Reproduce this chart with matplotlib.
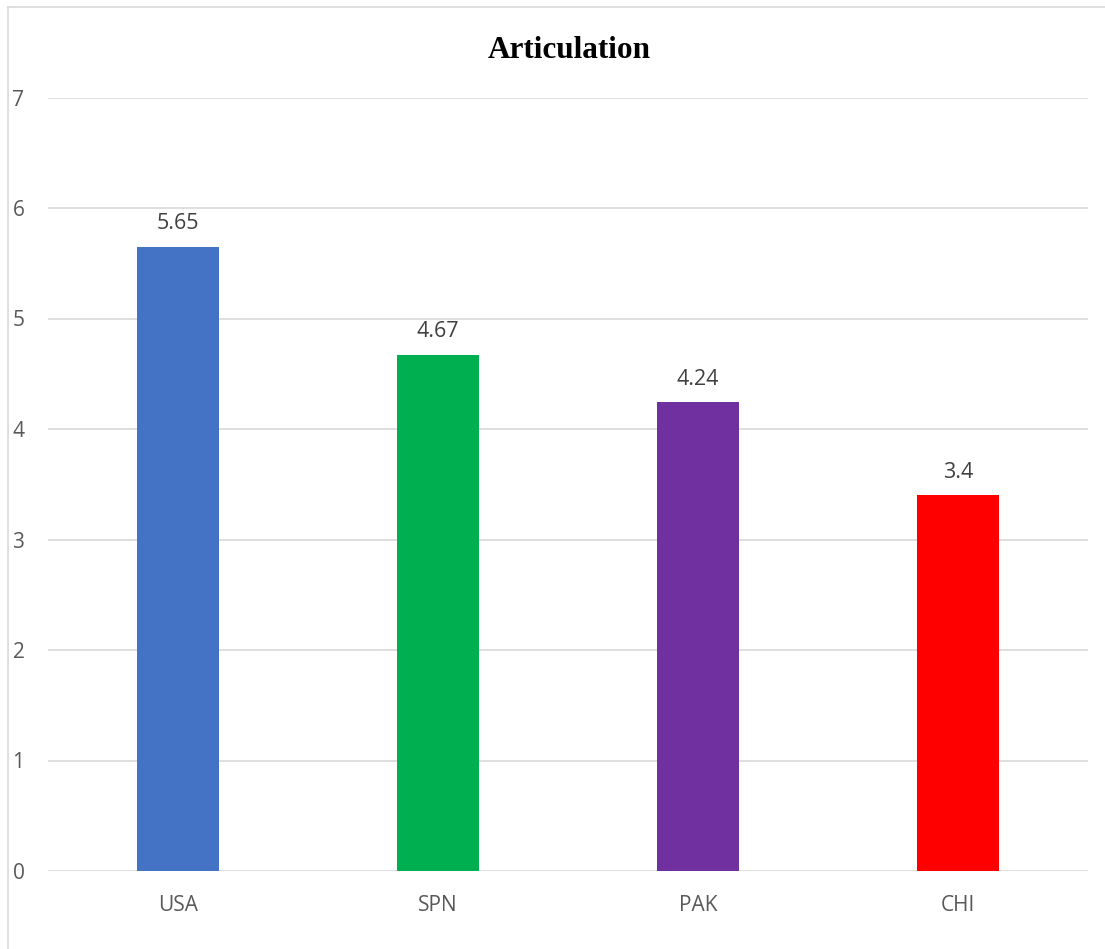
import numpy as np
import matplotlib.pyplot as plt
from matplotlib.lines import Line2D

# data
countries = ["USA", "SPN", "PAK", "CHI"]
scores = [5.65, 4.67, 4.24, 3.4]
score_labels = ["5.65", "4.67", "4.24", "3.4"]
bar_colors = ["#4472C4", "#00B050", "#7030A0", "#FF0000"]
yticks = [0, 1, 2, 3, 4, 5, 6, 7]

W, H = 1105, 949
fig = plt.figure(figsize=(W / 100, H / 100), dpi=100)
ax = fig.add_axes([48 / W, (H - 871) / H, (1088 - 48) / W, (871 - 97.5) / H])

x = np.arange(len(countries))
ax.bar(x, scores, width=0.315, color=bar_colors, zorder=3)

# value labels above bars
for xi, v, lab in zip(x, scores, score_labels):
    ax.annotate(lab, (xi, v), xytext=(0, 9), textcoords="offset points",
                ha="center", va="bottom", fontsize=15.5, color="#404040",
                family="Open Sans")

ax.set_xlim(-0.5, len(countries) - 0.5)
ax.set_ylim(0, 7)
ax.set_yticks(yticks)
ax.set_xticks(x)
ax.set_xticklabels(countries)
ax.yaxis.grid(True, color="#d9d9d9", linewidth=1.2, zorder=0)
ax.tick_params(length=0, labelsize=15, labelcolor="#595959")
ax.tick_params(axis="y", pad=17)
ax.tick_params(axis="x", pad=17)
for lab in ax.get_xticklabels() + ax.get_yticklabels():
    lab.set_family("Open Sans")
for s in ax.spines.values():
    s.set_visible(False)

fig.text(569 / W, 1 - 51 / H, "Articulation", ha="center", va="center",
         fontsize=22.5, fontweight="bold", family="Liberation Serif")

# chart frame (top and left edges visible)
fig.add_artist(Line2D([8 / W, 1], [1 - 7 / H, 1 - 7 / H], color="#d9d9d9", linewidth=1.2))
fig.add_artist(Line2D([8 / W, 8 / W], [0, 1 - 7 / H], color="#d9d9d9", linewidth=1.2))

fig.savefig("out.png", dpi=100)
